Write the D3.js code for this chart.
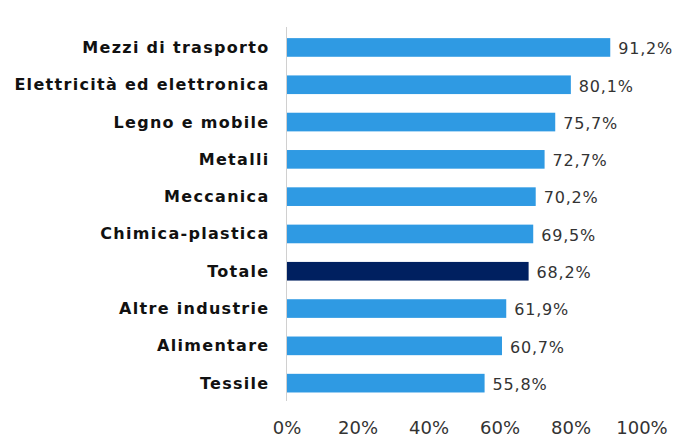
<!DOCTYPE html>
<html><head><meta charset="utf-8">
<script src="https://cdn.jsdelivr.net/npm/d3@7"></script>
<style>body{margin:0;background:#fff;}</style>
</head><body>
<svg id="c" width="675" height="437"></svg>
<script>
const categories = ["Mezzi di trasporto","Elettricità ed elettronica","Legno e mobile","Metalli","Meccanica","Chimica-plastica","Totale","Altre industrie","Alimentare","Tessile"];
const values = [91.2, 80.1, 75.7, 72.7, 70.2, 69.5, 68.2, 61.9, 60.7, 55.8];
const tickValues = [0, 20, 40, 60, 80, 100];
const highlight = "Totale";

const svg = d3.select("#c");
const x = d3.scaleLinear().domain([0, 100]).range([286.5, 641.5]);
const y = d3.scaleBand().domain(categories).range([28.8, 401.8]).paddingInner(0.5).paddingOuter(0.25);

const data = categories.map((c, i) => ({c, v: values[i]}));

svg.selectAll("rect.bar").data(data).join("rect")
  .attr("class", "bar")
  .attr("x", x(0))
  .attr("y", d => y(d.c))
  .attr("width", d => x(d.v) - x(0))
  .attr("height", y.bandwidth())
  .attr("fill", d => d.c === highlight ? "#002060" : "#2f9ae3");

svg.append("line").attr("x1", x(0)).attr("x2", x(0)).attr("y1", 27).attr("y2", 401)
  .attr("stroke", "#d0d0d0").attr("stroke-width", 1);

svg.selectAll("text.cat").data(data).join("text")
  .attr("class", "cat")
  .attr("x", 269.5)
  .attr("y", d => y(d.c) + y.bandwidth() / 2 + 5.5)
  .attr("text-anchor", "end")
  .attr("font-family", "DejaVu Sans, Verdana, sans-serif")
  .attr("font-weight", "bold")
  .attr("font-size", 16)
  .attr("letter-spacing", 1.3)
  .attr("fill", "#111")
  .text(d => d.c);

svg.selectAll("text.val").data(data).join("text")
  .attr("class", "val")
  .attr("x", d => x(d.v) + 8)
  .attr("y", d => y(d.c) + y.bandwidth() / 2 + 6.8)
  .attr("font-family", "DejaVu Sans, Verdana, sans-serif")
  .attr("font-size", 16)
  .attr("letter-spacing", 0.8)
  .attr("fill", "#333")
  .text(d => d.v.toFixed(1).replace(".", ",") + "%");

const axis = d3.axisBottom(x).tickValues(tickValues).tickSize(0).tickPadding(0).tickFormat(d => d + "%");
const g = svg.append("g").attr("transform", "translate(0,434)").call(axis);
g.select(".domain").remove();
g.selectAll("text").attr("dy", 0).attr("y", 0)
  .attr("font-family", "DejaVu Sans, Verdana, sans-serif").attr("font-size", 18).attr("fill", "#333");
</script>
</body></html>
